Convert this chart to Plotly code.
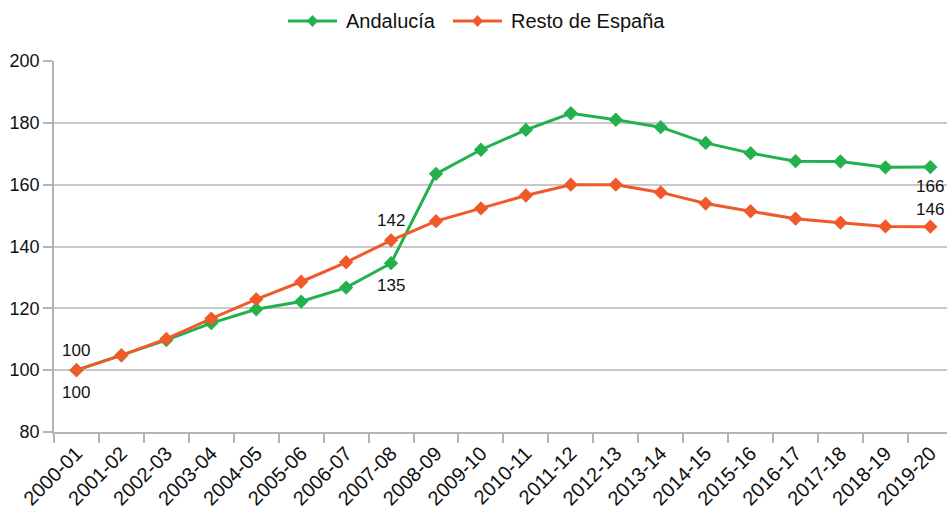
import plotly.graph_objects as go

categories = ["2000-01", "2001-02", "2002-03", "2003-04", "2004-05", "2005-06", "2006-07",
              "2007-08", "2008-09", "2009-10", "2010-11", "2011-12", "2012-13", "2013-14",
              "2014-15", "2015-16", "2016-17", "2017-18", "2018-19", "2019-20"]
andalucia = [100, 104.8, 109.7, 115.2, 119.7, 122.2, 126.7, 134.6, 163.5, 171.3, 177.7,
             183.1, 181.0, 178.6, 173.5, 170.2, 167.6, 167.5, 165.6, 165.7]
resto = [100, 104.8, 110.1, 116.7, 122.9, 128.6, 134.9, 142.0, 148.2, 152.3, 156.5,
         160.0, 160.0, 157.5, 153.9, 151.4, 149.0, 147.7, 146.5, 146.4]
label_idx = [0, 7, 19]
series_names = ["Andalucía", "Resto de España"]

GREEN = "#22b14c"
ORANGE = "#f05a2a"
FONT = "Liberation Sans, Arial, sans-serif"
TXT = "#111111"

W, H = 947, 521
L, R, T, B = 54, 0, 61, 89


def px_x(px):
    return (px - L) / (W - L - R)


def px_y(py):
    return (H - B - py) / (H - T - B)


fig = go.Figure()
for name, vals, col in [(series_names[0], andalucia, GREEN), (series_names[1], resto, ORANGE)]:
    fig.add_trace(go.Scatter(
        x=categories, y=vals, name=name, mode="lines+markers",
        line=dict(color=col, width=3),
        marker=dict(symbol="diamond", size=11, color=col),
        cliponaxis=False, showlegend=False, hoverinfo="skip"))

annotations = []
last = len(categories) - 1
for i in label_idx:
    below = -19 if i == last else -22
    above = 17 if i == last else 20
    annotations.append(dict(x=categories[i], y=andalucia[i], xref="x", yref="y",
                            text=f"{round(andalucia[i])}", showarrow=False, yshift=below,
                            borderpad=0,
                            font=dict(size=17, color=TXT, family=FONT)))
    annotations.append(dict(x=categories[i], y=resto[i], xref="x", yref="y",
                            text=f"{round(resto[i])}", showarrow=False, yshift=above,
                            borderpad=0,
                            font=dict(size=17, color=TXT, family=FONT)))

# manual legend
shapes = []
legend_items = [(series_names[0], GREEN, 288, 337, 344), (series_names[1], ORANGE, 453, 502, 509)]
ly = 21
for name, col, x0, x1, tx in legend_items:
    shapes.append(dict(type="line", xref="paper", yref="paper",
                       x0=px_x(x0), x1=px_x(x1), y0=px_y(ly), y1=px_y(ly),
                       line=dict(color=col, width=3)))
    shapes.append(dict(type="path", xref="paper", yref="paper",
                       xsizemode="pixel", ysizemode="pixel",
                       xanchor=px_x((x0 + x1) / 2), yanchor=px_y(ly),
                       path="M0,-6 L5.5,0 L0,6 L-5.5,0 Z",
                       fillcolor=col, line=dict(color=col, width=0)))
    annotations.append(dict(x=px_x(tx), y=px_y(ly), xref="paper", yref="paper",
                            xanchor="left", yanchor="middle", text=name, showarrow=False,
                            font=dict(size=20, color=TXT, family=FONT)))

fig.update_layout(
    width=W, height=H,
    margin=dict(l=L, r=R, t=T, b=B),
    paper_bgcolor="white", plot_bgcolor="white",
    font=dict(family=FONT, size=18, color=TXT),
    showlegend=False,
    hovermode=False,
    annotations=annotations,
    shapes=shapes,
    xaxis=dict(type="category", range=[-0.5, 19.37], tickangle=-45, automargin=False,
               tickson="boundaries", ticks="outside", ticklen=9, tickcolor="#b3b3b3",
               tickwidth=1.5,
               showgrid=False, showline=True, linecolor="#b3b3b3", linewidth=1.5,
               tickfont=dict(size=20)),
    yaxis=dict(range=[80, 200], dtick=20, ticks="outside", ticklen=9, tickcolor="#b3b3b3",
               tickwidth=1.5, automargin=False,
               showgrid=True, gridcolor="#c8c8c8", gridwidth=1.5,
               showline=True, linecolor="#b3b3b3", linewidth=1.5, zeroline=False,
               tickfont=dict(size=18)),
)

fig.write_html("out.html", config={"displayModeBar": False},
               post_script="document.body.style.margin='0';document.body.style.overflow='hidden';")
